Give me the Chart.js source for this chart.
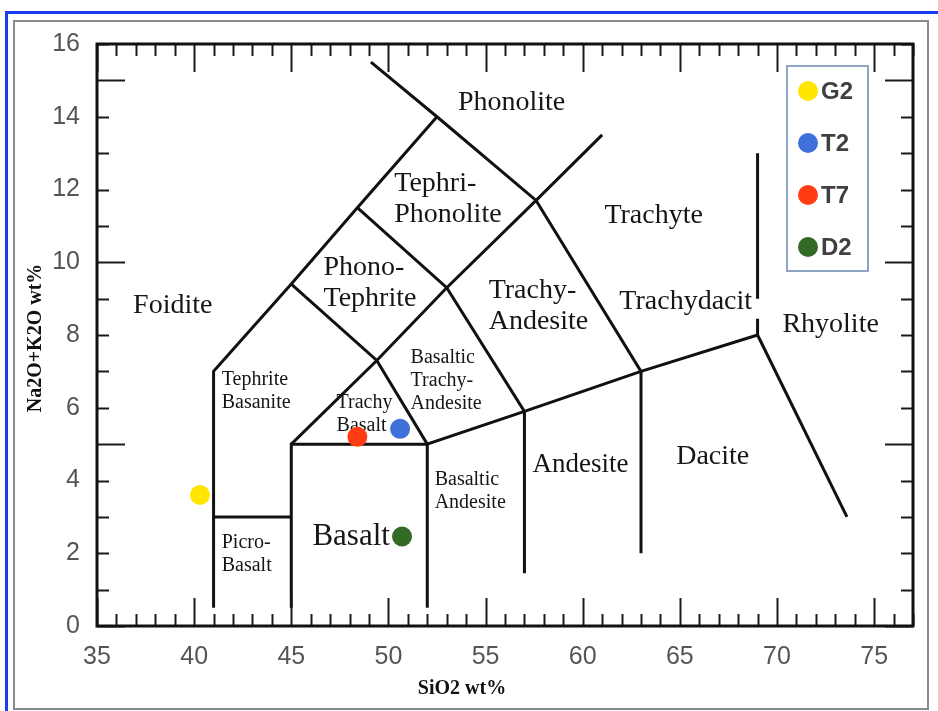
<!DOCTYPE html>
<html>
<head>
<meta charset="utf-8">
<script src="https://cdn.jsdelivr.net/npm/chart.js@4.4.1/dist/chart.umd.min.js"></script>
<style>
  body { margin: 0; background: #fff; width: 938px; height: 711px; overflow: hidden; position: relative; }
  #blue { position: absolute; left: 5px; top: 11px; right: 0; bottom: 0; border-left: 3px solid #1a3cf5; border-top: 3px solid #1a3cf5; }
  #panel { position: absolute; left: 13px; top: 20px; width: 912px; height: 686px; border: 2px solid #8a8a8a; }
  #tas { position: absolute; left: 0; top: 0; }
</style>
</head>
<body>
<div id="blue"></div>
<div id="panel"></div>
<canvas id="tas" width="938" height="711"></canvas>
<script>
// samples
const sampleNames = ['G2', 'T2', 'T7', 'D2'];
const sampleSiO2 = [40.3, 50.6, 48.4, 50.7];
const sampleAlkali = [3.6, 5.42, 5.2, 2.46];
const sampleColors = ['#ffe600', '#3f6fd8', '#ff3c12', '#336a26'];

// axis tick labels
const xTickLabels = [35, 40, 45, 50, 55, 60, 65, 70, 75];
const yTickLabels = [0, 2, 4, 6, 8, 10, 12, 14, 16];

// TAS field boundaries (SiO2, Na2O+K2O)
const tasLines = [
  [[41, 0.5], [41, 7], [45, 9.4], [48.4, 11.5], [52.5, 14]],
  [[49.1, 15.5], [52.5, 14], [57.6, 11.7], [63, 7], [63, 2]],
  [[41, 3], [45, 3]],
  [[45, 0.5], [45, 5], [52, 5]],
  [[52, 0.5], [52, 5], [57, 5.9], [63, 7], [69, 8]],
  [[45, 5], [49.4, 7.3], [53, 9.3], [57.6, 11.7], [61, 13.5]],
  [[45, 9.4], [49.4, 7.3], [52, 5]],
  [[48.4, 11.5], [53, 9.3], [57, 5.9], [57, 1.45]],
  [[69, 8], [73.6, 3]],
  [[69, 13], [69, 9]],
  [[69, 8.45], [69, 8]]
];

// field names: text lines, anchor (SiO2, alkali), size, align
const fieldNames = [
  { t: ['Foidite'], x: 38.9, y: 8.8, s: 28, a: 'center' },
  { t: ['Phonolite'], x: 56.34, y: 14.38, s: 28, a: 'center' },
  { t: ['Tephri-', 'Phonolite'], x: 50.3, y: 12.15, s: 28, a: 'left' },
  { t: ['Phono-', 'Tephrite'], x: 46.66, y: 9.84, s: 28, a: 'left' },
  { t: ['Trachy-', 'Andesite'], x: 55.16, y: 9.21, s: 28, a: 'left' },
  { t: ['Trachyte'], x: 63.65, y: 11.27, s: 28, a: 'center' },
  { t: ['Trachydacit'], x: 65.3, y: 8.91, s: 28, a: 'center' },
  { t: ['Rhyolite'], x: 72.76, y: 8.28, s: 28, a: 'center' },
  { t: ['Andesite'], x: 59.89, y: 4.43, s: 27, a: 'center' },
  { t: ['Dacite'], x: 66.69, y: 4.65, s: 28, a: 'center' },
  { t: ['Basalt'], x: 48.08, y: 2.45, s: 31, a: 'center' },
  { t: ['Tephrite', 'Basanite'], x: 41.42, y: 6.76, s: 20, a: 'left' },
  { t: ['Trachy', 'Basalt'], x: 47.33, y: 6.13, s: 20, a: 'left' },
  { t: ['Basaltic', 'Trachy-', 'Andesite'], x: 51.14, y: 7.37, s: 20, a: 'left' },
  { t: ['Basaltic', 'Andesite'], x: 52.38, y: 4.01, s: 20, a: 'left' },
  { t: ['Picro-', 'Basalt'], x: 41.42, y: 2.28, s: 20, a: 'left' }
];

const datasets = [];
sampleNames.forEach((n, i) => {
  datasets.push({
    label: n,
    data: [{ x: sampleSiO2[i], y: sampleAlkali[i] }],
    backgroundColor: sampleColors[i],
    borderWidth: 0,
    pointRadius: 10,
    pointHoverRadius: 10,
    order: 0
  });
});
tasLines.forEach(line => {
  datasets.push({
    label: '',
    data: line.map(p => ({ x: p[0], y: p[1] })),
    showLine: true,
    borderColor: '#111',
    borderWidth: 3,
    pointRadius: 0,
    fill: false,
    order: 1
  });
});

const tasDecor = {
  id: 'tasDecor',
  beforeDatasetsDraw(chart) {
    const ctx = chart.ctx, xs = chart.scales.x, ys = chart.scales.y;
    ctx.save();
    ctx.fillStyle = '#161616';
    ctx.textBaseline = 'middle';
    fieldNames.forEach(f => {
      ctx.font = f.s + 'px "Liberation Serif", "Times New Roman", serif';
      ctx.textAlign = f.a;
      const lh = f.s > 24 ? 31 : 23;
      const px = xs.getPixelForValue(f.x), py = ys.getPixelForValue(f.y);
      f.t.forEach((s, k) => ctx.fillText(s, px, py + k * lh));
    });
    ctx.restore();
  },
  afterDatasetsDraw(chart) {
    const ctx = chart.ctx, a = chart.chartArea, xs = chart.scales.x, ys = chart.scales.y;
    ctx.save();
    ctx.strokeStyle = '#1a1a1a';
    ctx.lineWidth = 2;
    ctx.beginPath();
    for (let v = 35; v <= 77; v++) {
      const p = Math.round(xs.getPixelForValue(v)) + 0.5;
      const len = v % 5 === 0 ? 28 : 12;
      ctx.moveTo(p, a.bottom); ctx.lineTo(p, a.bottom - len);
      ctx.moveTo(p, a.top); ctx.lineTo(p, a.top + len);
    }
    for (let v = 0; v <= 16; v++) {
      const p = Math.round(ys.getPixelForValue(v)) + 0.5;
      const len = v % 5 === 0 ? 28 : 12;
      ctx.moveTo(a.left, p); ctx.lineTo(a.left + len, p);
      ctx.moveTo(a.right, p); ctx.lineTo(a.right - len, p);
    }
    ctx.stroke();
    ctx.lineWidth = 3;
    ctx.strokeStyle = '#111';
    ctx.strokeRect(a.left, a.top, a.right - a.left, a.bottom - a.top);

    // axis titles
    ctx.fillStyle = '#111';
    ctx.font = 'bold 20px "Liberation Serif", "Times New Roman", serif';
    ctx.textAlign = 'center';
    ctx.textBaseline = 'middle';
    ctx.fillText('SiO2 wt%', 462, 689);
    ctx.translate(36, 338);
    ctx.rotate(-Math.PI / 2);
    ctx.fillText('Na2O+K2O wt%', 0, 0);
    ctx.restore();
  },
  afterDraw(chart) {
    const ctx = chart.ctx;
    ctx.save();
    ctx.strokeStyle = '#8da4c4';
    ctx.lineWidth = 2;
    ctx.strokeRect(787, 66, 81, 205);
    ctx.font = 'bold 24px "Liberation Sans", Arial, sans-serif';
    ctx.textBaseline = 'middle';
    ctx.textAlign = 'left';
    sampleNames.forEach((n, i) => {
      const cy = 91 + i * 52;
      ctx.fillStyle = sampleColors[i];
      ctx.beginPath();
      ctx.arc(808, cy, 10, 0, Math.PI * 2);
      ctx.fill();
      ctx.fillStyle = '#404040';
      ctx.fillText(n, 821, cy + 1);
    });
    ctx.restore();
  }
};

const tickFont = { family: '"Liberation Sans", Arial, sans-serif', size: 25 };

new Chart(document.getElementById('tas'), {
  type: 'scatter',
  data: { datasets: datasets },
  options: {
    responsive: false,
    devicePixelRatio: 1,
    animation: false,
    layout: { padding: { left: 0, top: 44, right: 25, bottom: 0 } },
    plugins: { legend: { display: false }, tooltip: { enabled: false } },
    scales: {
      x: {
        type: 'linear', min: 35, max: 77,
        grid: { display: false, drawTicks: false },
        border: { display: false },
        ticks: {
          stepSize: 1, autoSkip: false, maxRotation: 0, padding: 16,
          color: '#555', font: tickFont,
          callback: v => xTickLabels.includes(v) ? String(v) : ''
        },
        afterFit: s => { s.height = 85; }
      },
      y: {
        type: 'linear', min: 0, max: 16,
        grid: { display: false, drawTicks: false },
        border: { display: false },
        ticks: {
          stepSize: 1, autoSkip: false, padding: 17,
          color: '#555', font: tickFont,
          callback: v => yTickLabels.includes(v) ? String(v) : ''
        },
        afterFit: s => { s.width = 97; }
      }
    }
  },
  plugins: [tasDecor]
});
</script>
</body>
</html>
